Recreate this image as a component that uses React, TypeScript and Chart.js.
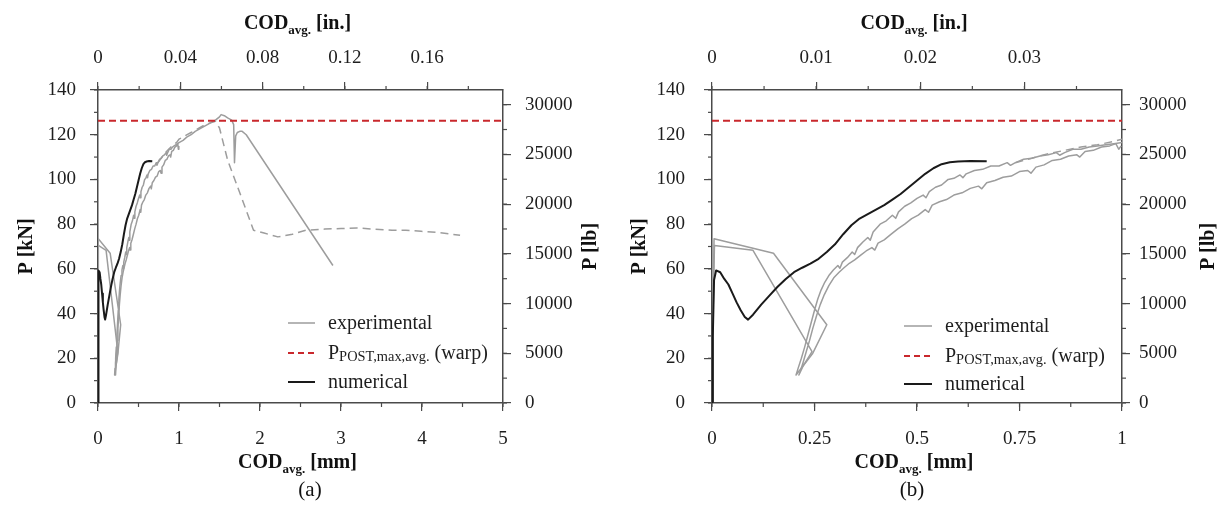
import React, { useEffect, useRef } from "react";
import { Chart, registerables } from "chart.js";

Chart.register(...registerables);

const FONT = "'Liberation Serif', 'Times New Roman', Times, serif";
const AXIS_COLOR = "#4a4a4a";
const TEXT_COLOR = "#1e1e1e";
const EXP_COLOR = "#9d9d9d";
const NUM_COLOR = "#1a1a1a";
const RED = "#c9282d";

const MM_PER_IN = 25.4;
const LB_PER_KN = 224.809;

// Load axis (kN) and its lb twin
const P_MAX = 140;
const KN_TICKS = [0, 20, 40, 60, 80, 100, 120, 140];
const P_MINOR = 10;
const LB_TICKS = [0, 5000, 10000, 15000, 20000, 25000, 30000];
const LB_MINOR = 2500;

// COD axes
const A_MM_TICKS = [0, 1, 2, 3, 4, 5];
const A_IN_TICKS = [0, 0.04, 0.08, 0.12, 0.16];
const B_MM_TICKS = [0, 0.25, 0.5, 0.75, 1];
const B_IN_TICKS = [0, 0.01, 0.02, 0.03];

// Warp reference load
const P_POST_MAX_AVG = 126.3;

// Numerical curve: COD [mm], P [kN]
const NUM_X = [0, 0.002, 0.005, 0.01, 0.02, 0.03, 0.04, 0.05, 0.06, 0.07, 0.08, 0.088, 0.1, 0.12, 0.14, 0.16, 0.18, 0.2, 0.22, 0.24, 0.26, 0.28, 0.3, 0.32, 0.34, 0.36, 0.38, 0.4, 0.42, 0.44, 0.46, 0.48, 0.5, 0.52, 0.54, 0.56, 0.58, 0.6, 0.63, 0.67];
const NUM_Y = [0, 30, 55, 59.3, 58.5, 55.5, 53, 49, 45, 41.5, 38.5, 37.3, 39.5, 44, 48, 52, 55.5, 58.5, 60.5, 62.3, 64.5, 67.5, 71, 75.5, 79.5, 82.5, 84.5, 86.5, 88.5, 91, 93.5, 96.5, 99.5, 102.5, 105, 106.8, 107.7, 108, 108.2, 108.1];

// Experimental specimen 1 (solid, upper branch, post-peak to 2.9 mm)
const EXP1_X = [0, 0.002, 0.005, 0.15, 0.28, 0.245, 0.205, 0.21, 0.218, 0.226, 0.234, 0.242, 0.25, 0.258, 0.266, 0.275, 0.285, 0.296, 0.307, 0.312, 0.318, 0.33, 0.342, 0.348, 0.355, 0.368, 0.38, 0.386, 0.393, 0.41, 0.425, 0.44, 0.448, 0.455, 0.47, 0.485, 0.5, 0.515, 0.522, 0.53, 0.545, 0.56, 0.576, 0.59, 0.605, 0.612, 0.62, 0.64, 0.66, 0.68, 0.7, 0.72, 0.728, 0.74, 0.76, 0.78, 0.8, 0.82, 0.84, 0.848, 0.86, 0.88, 0.9, 0.92, 0.94, 0.96, 0.98, 1.0, 1.05, 1.1, 1.15, 1.2, 1.25, 1.3, 1.35, 1.4, 1.45, 1.5, 1.52, 1.56, 1.6, 1.65, 1.675, 1.685, 1.7, 1.72, 1.75, 1.78, 1.83, 2.9];
const EXP1_Y = [0, 40, 73.5, 67, 35, 22, 12.5, 15.5, 20, 25, 30.5, 36, 41.5, 46.5, 50.5, 54, 57, 59.5, 61.5, 60.3, 63, 65, 67.5, 66.4, 69.5, 72, 74, 72.8, 76.5, 80, 81.5, 84, 82.6, 85.5, 88, 89.5, 91.5, 93, 91.8, 94.5, 96.5, 97.5, 100, 100.5, 102, 100.8, 102.5, 104, 104.5, 106, 106, 107.5, 106.3, 107.5, 109, 109.5, 110.5, 111, 112, 110.8, 112, 113.5, 113.5, 114.5, 115, 115.5, 116, 116.5, 117.5, 119, 120, 121.5, 122.5, 123.5, 124.5, 125.5, 126.5, 128, 129, 128.5, 127.5, 126.5, 124.5, 107.5, 119.5, 121, 121.5, 121.5, 120, 61.5];

// Experimental specimen 2 (solid, lower branch, ends near 1 mm)
const EXP2_X = [0, 0.002, 0.006, 0.1, 0.244, 0.222, 0.212, 0.216, 0.222, 0.23, 0.238, 0.246, 0.255, 0.264, 0.274, 0.285, 0.297, 0.31, 0.322, 0.335, 0.348, 0.362, 0.376, 0.39, 0.397, 0.405, 0.42, 0.437, 0.454, 0.47, 0.487, 0.503, 0.52, 0.528, 0.537, 0.555, 0.572, 0.59, 0.61, 0.63, 0.65, 0.658, 0.67, 0.69, 0.71, 0.73, 0.75, 0.77, 0.778, 0.79, 0.81, 0.83, 0.85, 0.87, 0.89, 0.897, 0.91, 0.93, 0.95, 0.97, 0.985, 0.992, 0.998];
const EXP2_Y = [0, 35, 70.5, 68.3, 23, 16.5, 12.5, 14.5, 18, 23, 28, 33.5, 39, 44, 48.5, 52.5, 56, 58.5, 60.5, 62.5, 64, 66, 68, 69.5, 68.4, 71.5, 73, 75.5, 78, 80, 82.5, 84, 86.5, 85.3, 88.5, 90, 91, 93, 94, 96, 97, 95.8, 98.5, 99.5, 101, 101.5, 103.5, 104, 102.8, 105.5, 106.5, 108.5, 109, 110.5, 111, 110, 112.5, 113, 114.5, 115, 116, 113.5, 115];

// Experimental specimen 3 (dashed, leaves the solid branch at ~0.75 mm, post-peak to 4.47 mm)
const EXP3_X = [0.74, 0.78, 0.82, 0.86, 0.9, 0.94, 0.98, 1.0, 1.05, 1.1, 1.15, 1.2, 1.25, 1.3, 1.35, 1.4, 1.45, 1.5, 1.6, 1.74, 1.92, 2.05, 2.22, 2.4, 2.57, 2.8, 3.0, 3.19, 3.4, 3.63, 3.8, 3.99, 4.2, 4.47];
const EXP3_Y = [107.5, 109.5, 111.5, 113, 114.5, 115.5, 117, 118, 119, 120, 121, 122, 123, 124, 124.8, 125.5, 126, 123, 108.7, 95, 77.3, 76, 74.3, 75.5, 77.3, 77.8, 78, 78.3, 77.8, 77.3, 77.3, 76.8, 76.3, 75];

// Labels
const X_TITLE = [{ t: "COD" }, { t: "avg.", sub: true }, { t: " [mm]" }];
const X2_TITLE = [{ t: "COD" }, { t: "avg.", sub: true }, { t: " [in.]" }];
const Y_TITLE = "P [kN]";
const Y2_TITLE = "P [lb]";
const LEGEND_EXP = [{ t: "experimental" }];
const LEGEND_POST = [{ t: "P" }, { t: "POST,max,avg.", sub: true }, { t: " (warp)" }];
const LEGEND_NUM = [{ t: "numerical" }];

type Part = { t: string; sub?: boolean };

type PanelCfg = {
  caption: string;
  captionX: number;
  canvasLeft: number;
  width: number;
  height: number;
  xMax: number;
  mmTicks: number[];
  inTicks: number[];
  xMinor: number;
  inMinor: number;
  area: { left: number; right: number; top: number; bottom: number };
  yPad: number;
  y2Pad: number;
  leftTitleX: number;
  rightTitleX: number;
  legend: { lineX: number; lineLen: number; textX: number; rows: number[] };
};

const PANEL_A: PanelCfg = {
  caption: "(a)",
  captionX: 310,
  canvasLeft: 0,
  width: 610,
  height: 509,
  xMax: 5,
  mmTicks: A_MM_TICKS,
  inTicks: A_IN_TICKS,
  xMinor: 0.5,
  inMinor: 0.02,
  area: { left: 98, right: 503, top: 90, bottom: 403 },
  yPad: 14,
  y2Pad: 14,
  leftTitleX: 31.5,
  rightTitleX: 595.5,
  legend: { lineX: 288, lineLen: 27, textX: 328, rows: [323, 353, 382] },
};

const PANEL_B: PanelCfg = {
  caption: "(b)",
  captionX: 912,
  canvasLeft: 610,
  width: 610,
  height: 509,
  xMax: 1,
  mmTicks: B_MM_TICKS,
  inTicks: B_IN_TICKS,
  xMinor: 0.125,
  inMinor: 0.005,
  area: { left: 102, right: 512, top: 90, bottom: 403 },
  yPad: 19,
  y2Pad: 9,
  leftTitleX: 34.5,
  rightTitleX: 604,
  legend: { lineX: 294, lineLen: 28, textX: 335, rows: [326, 356, 384] },
};

const fmt = (v: number) => String(Math.round(v * 1e6) / 1e6);
const toPts = (xs: number[], ys: number[]) => xs.map((x, i) => ({ x, y: ys[i] }));

function drawRich(ctx: CanvasRenderingContext2D, parts: Part[], x: number, y: number, size: number, bold: boolean, align: "center" | "left", subScale: number, subShift: number) {
  const font = (s: number) => `${bold ? "bold " : ""}${s}px ${FONT}`;
  const subSize = size * subScale;
  let total = 0;
  const widths = parts.map((p) => {
    ctx.font = font(p.sub ? subSize : size);
    const w = ctx.measureText(p.t).width;
    total += w;
    return w;
  });
  let cx = align === "center" ? x - total / 2 : x;
  ctx.textAlign = "left";
  ctx.textBaseline = "alphabetic";
  parts.forEach((p, i) => {
    ctx.font = font(p.sub ? subSize : size);
    ctx.fillText(p.t, cx, p.sub ? y + subShift : y);
    cx += widths[i];
  });
}

function Panel({ cfg }: { cfg: PanelCfg }) {
  const ref = useRef<HTMLCanvasElement | null>(null);

  useEffect(() => {
    const canvas = ref.current;
    if (!canvas) return;
    const tickFont = { family: FONT, size: 19 };

    const decor = {
      id: "decor_" + cfg.caption,
      afterDraw(chart: any) {
        const ctx: CanvasRenderingContext2D = chart.ctx;
        const a = chart.chartArea;
        ctx.save();
        // minor ticks
        ctx.strokeStyle = AXIS_COLOR;
        ctx.lineWidth = 1.2;
        const len = 4;
        const minor = (id: string, step: number, side: string) => {
          const s = chart.scales[id];
          const n = Math.floor(s.max / step + 1e-9);
          for (let i = 0; i <= n; i++) {
            const p = s.getPixelForValue(i * step);
            ctx.beginPath();
            if (side === "bottom") { ctx.moveTo(p, a.bottom); ctx.lineTo(p, a.bottom + len); }
            if (side === "top") { ctx.moveTo(p, a.top); ctx.lineTo(p, a.top - len); }
            if (side === "left") { ctx.moveTo(a.left, p); ctx.lineTo(a.left - len, p); }
            if (side === "right") { ctx.moveTo(a.right, p); ctx.lineTo(a.right + len, p); }
            ctx.stroke();
          }
        };
        minor("x", cfg.xMinor, "bottom");
        minor("x2", cfg.inMinor, "top");
        minor("y", P_MINOR, "left");
        minor("y2", LB_MINOR, "right");

        // axis titles
        ctx.fillStyle = "#111";
        const cxm = (a.left + a.right) / 2;
        const cym = (a.top + a.bottom) / 2;
        drawRich(ctx, X_TITLE, cxm - 3, 468, 20, true, "center", 0.65, 5);
        drawRich(ctx, X2_TITLE, cxm - 3, 29, 20, true, "center", 0.65, 5);
        ctx.save();
        ctx.translate(cfg.leftTitleX, cym);
        ctx.rotate(-Math.PI / 2);
        drawRich(ctx, [{ t: Y_TITLE }], 0, 0, 20, true, "center", 1, 0);
        ctx.restore();
        ctx.save();
        ctx.translate(cfg.rightTitleX, cym);
        ctx.rotate(-Math.PI / 2);
        drawRich(ctx, [{ t: Y2_TITLE }], 0, 0, 20, true, "center", 1, 0);
        ctx.restore();

        // legend
        const L = cfg.legend;
        const items = [
          { parts: LEGEND_EXP, color: EXP_COLOR, dash: [] as number[], w: 1.5 },
          { parts: LEGEND_POST, color: RED, dash: [6, 4], w: 2 },
          { parts: LEGEND_NUM, color: NUM_COLOR, dash: [] as number[], w: 2 },
        ];
        items.forEach((it, i) => {
          const y = L.rows[i];
          ctx.strokeStyle = it.color;
          ctx.lineWidth = it.w;
          ctx.setLineDash(it.dash);
          ctx.beginPath();
          ctx.moveTo(L.lineX, y);
          ctx.lineTo(L.lineX + L.lineLen, y);
          ctx.stroke();
          ctx.setLineDash([]);
          ctx.fillStyle = TEXT_COLOR;
          drawRich(ctx, it.parts, L.textX, y + 6, 20, false, "left", 0.72, 1.5);
        });
        ctx.restore();
      },
    };

    const axis = (pad: number, tickValues: number[]) => ({
      grid: { drawOnChartArea: false, tickLength: 8, color: AXIS_COLOR, lineWidth: 1.2 },
      border: { color: AXIS_COLOR, width: 1.5 },
      afterBuildTicks: (s: any) => {
        s.ticks = tickValues.map((v) => ({ value: v }));
      },
      ticks: {
        autoSkip: false,
        maxRotation: 0,
        padding: pad,
        color: TEXT_COLOR,
        font: tickFont,
        callback: (v: any) => fmt(Number(v)),
      },
    });

    const chart = new Chart(canvas, {
      type: "line",
      data: {
        datasets: [
          {
            label: "numerical",
            data: toPts(NUM_X, NUM_Y),
            borderColor: NUM_COLOR,
            borderWidth: 2,
            pointRadius: 0,
            order: 0,
          },
          {
            label: "P_POST,max,avg. (warp)",
            data: [
              { x: 0, y: P_POST_MAX_AVG },
              { x: cfg.xMax, y: P_POST_MAX_AVG },
            ],
            borderColor: RED,
            borderWidth: 2,
            borderDash: [7, 4],
            pointRadius: 0,
            order: 1,
          },
          {
            label: "experimental 1",
            data: toPts(EXP1_X, EXP1_Y),
            borderColor: EXP_COLOR,
            borderWidth: 1.5,
            pointRadius: 0,
            order: 2,
          },
          {
            label: "experimental 2",
            data: toPts(EXP2_X, EXP2_Y),
            borderColor: EXP_COLOR,
            borderWidth: 1.5,
            pointRadius: 0,
            order: 3,
          },
          {
            label: "experimental 3",
            data: toPts(EXP3_X, EXP3_Y),
            borderColor: EXP_COLOR,
            borderWidth: 1.5,
            borderDash: [8, 5],
            pointRadius: 0,
            order: 4,
          },
        ] as any,
      },
      options: {
        animation: false,
        responsive: false,
        layout: { padding: 0, autoPadding: false } as any,
        plugins: { legend: { display: false }, tooltip: { enabled: false } },
        elements: { line: { tension: 0, borderJoinStyle: "round", borderCapStyle: "butt" } },
        scales: {
          x: {
            type: "linear",
            position: "bottom",
            min: 0,
            max: cfg.xMax,
            afterFit: (s: any) => { s.height = cfg.height - cfg.area.bottom; },
            ...axis(17, cfg.mmTicks),
          },
          x2: {
            type: "linear",
            position: "top",
            min: 0,
            max: cfg.xMax / MM_PER_IN,
            afterFit: (s: any) => { s.height = cfg.area.top; },
            ...axis(13, cfg.inTicks),
          },
          y: {
            type: "linear",
            position: "left",
            min: 0,
            max: P_MAX,
            afterFit: (s: any) => { s.width = cfg.area.left; },
            ...axis(cfg.yPad, KN_TICKS),
          },
          y2: {
            type: "linear",
            position: "right",
            min: 0,
            max: P_MAX * LB_PER_KN,
            afterFit: (s: any) => { s.width = cfg.width - cfg.area.right; },
            ...axis(cfg.y2Pad, LB_TICKS),
          },
        } as any,
      },
      plugins: [decor as any],
    });
    return () => chart.destroy();
  }, [cfg]);

  return (
    <div style={{ position: "absolute", left: cfg.canvasLeft, top: 0, width: cfg.width, height: cfg.height }}>
      <canvas ref={ref} width={cfg.width} height={cfg.height} style={{ width: cfg.width, height: cfg.height, display: "block" }} />
    </div>
  );
}

export default function App() {
  return (
    <div style={{ position: "absolute", left: 0, top: 0, width: 1220, height: 509, background: "#fff", overflow: "hidden" }}>
      <Panel cfg={PANEL_A} />
      <Panel cfg={PANEL_B} />
      {[PANEL_A, PANEL_B].map((p) => (
        <span
          key={p.caption}
          style={{
            position: "absolute",
            left: p.captionX,
            top: 477,
            transform: "translateX(-50%)",
            fontFamily: FONT,
            fontSize: 21,
            lineHeight: "24px",
            color: "#111",
            whiteSpace: "nowrap",
          }}
        >
          {p.caption}
        </span>
      ))}
    </div>
  );
}
